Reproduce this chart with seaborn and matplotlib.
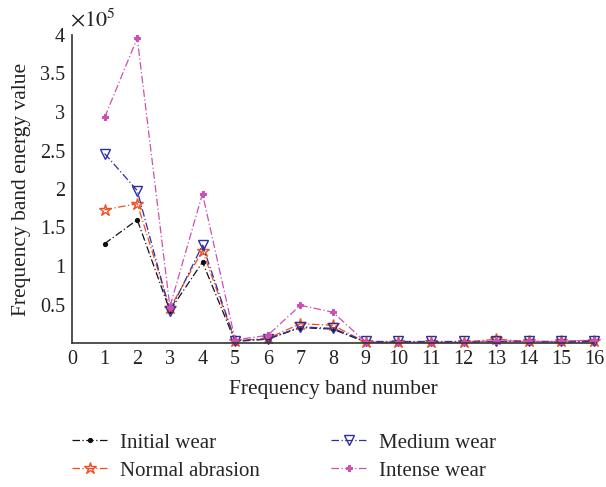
import matplotlib
matplotlib.use("Agg")
import matplotlib.pyplot as plt
import seaborn as sns
import numpy as np

bands = list(range(1, 17))
initial_wear = [1.29, 1.60, 0.42, 1.05, 0.02, 0.05, 0.20, 0.18, 0.01, 0.01, 0.01, 0.01, 0.02, 0.02, 0.01, 0.02]
normal_abrasion = [1.73, 1.81, 0.45, 1.20, 0.03, 0.06, 0.25, 0.23, 0.01, 0.01, 0.01, 0.01, 0.05, 0.02, 0.02, 0.03]
medium_wear = [2.46, 1.98, 0.41, 1.27, 0.03, 0.05, 0.21, 0.19, 0.02, 0.02, 0.02, 0.02, 0.02, 0.02, 0.02, 0.03]
intense_wear = [2.93, 3.96, 0.47, 1.94, 0.04, 0.10, 0.49, 0.40, 0.01, 0.01, 0.01, 0.01, 0.03, 0.02, 0.02, 0.04]

sns.set_theme(style="white")
plt.rcParams['font.family'] = ['Liberation Serif', 'DejaVu Serif']
plt.rcParams['mathtext.fontset'] = 'stix'

fig = plt.figure(figsize=(6.06, 4.87), dpi=100)
ax = fig.add_axes([72/606, 1-343/487, (594-72)/606, (343-35)/487])

series = [
    ("Initial wear", initial_wear, "#111111", "o", dict(markersize=3.0, markerfacecolor="#111111")),
    ("Normal abrasion", normal_abrasion, "#f04e23", "*", dict(markersize=9, markerfacecolor="none", markeredgewidth=1.0)),
    ("Medium wear", medium_wear, "#2e2e9e", "v", dict(markersize=7, markerfacecolor="none", markeredgewidth=1.0)),
    ("Intense wear", intense_wear, "#cc4fb4", "P", dict(markersize=5, markerfacecolor="#cc4fb4")),
]
for name, vals, col, mk, kw in series:
    sns.lineplot(x=bands, y=vals, ax=ax, color=col, marker=mk, linestyle=(0, (6, 2, 1, 2)),
                 linewidth=0.9, label=name, markeredgecolor=col, clip_on=False, **kw)

ax.set_xlim(0, 16)
ax.set_ylim(0, 4)
ax.set_xticks(range(0, 17))
ax.set_yticks([0.5, 1, 1.5, 2, 2.5, 3, 3.5, 4])
ax.set_yticklabels(["0.5", "1", "1.5", "2", "2.5", "3", "3.5", "4"])
for s in ["top", "right"]:
    ax.spines[s].set_visible(False)
for s in ["left", "bottom"]:
    ax.spines[s].set_color("#333333")
    ax.spines[s].set_linewidth(1.2)
ax.tick_params(direction="in", length=5, width=1, colors="#333333", labelcolor="#222222", labelsize=14.5)
ax.tick_params(axis="x", pad=5)
ax.tick_params(axis="y", pad=5)
ax.set_xlabel("Frequency band number", fontsize=15.5, color="#222222", labelpad=8)
ax.set_ylabel("Frequency band energy value", fontsize=15.5, color="#222222", labelpad=6)
fig.text(70/606, 1-20/487, r"$\times 10^5$", fontsize=16, color="#222222", ha="left", va="center")

handles, labels = ax.get_legend_handles_labels()
ax.get_legend().remove()
fig.legend(handles, labels, ncol=2, loc="upper left", bbox_to_anchor=(72/606, 1-433/487),
           frameon=False, fontsize=15, columnspacing=3.4, handlelength=1.7, handletextpad=0.62,
           labelspacing=0.4, borderpad=0, borderaxespad=0)

fig.savefig("out.png", dpi=100)
